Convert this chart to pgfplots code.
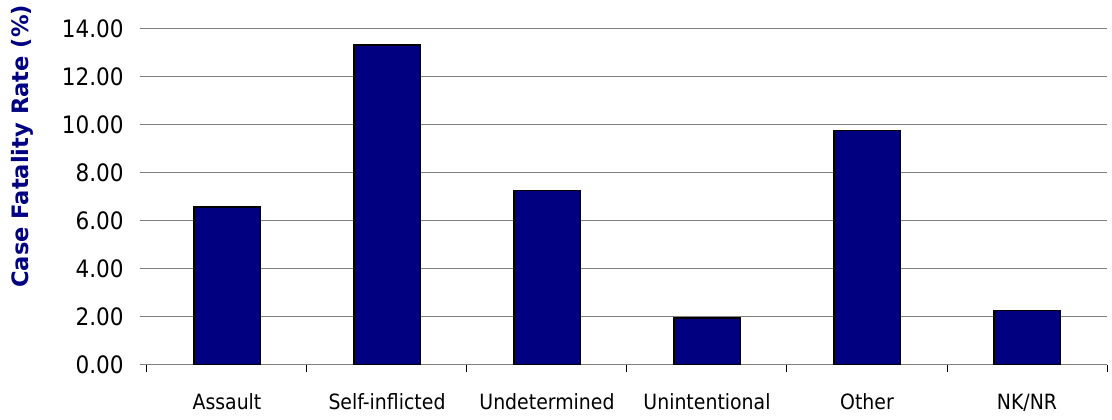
\documentclass[border=0pt]{standalone}
\usepackage{pgfplots}
\pgfplotsset{compat=1.18}
\usepackage{fontspec}
\setmainfont{DejaVu Sans}
\newfontfamily\condfont{DejaVu Sans Condensed}
\definecolor{barnavy}{RGB}{0,0,128}
\definecolor{gridgray}{RGB}{128,128,128}
\begin{document}
\begin{tikzpicture}
\path[use as bounding box] (-73.5pt,-27.25pt) rectangle (482.5pt,182.35pt);
\begin{axis}[
  at={(0,0)}, anchor=south west,
  scale only axis, width=480pt, height=168pt,
  xmin=-0.5, xmax=5.5, ymin=0, ymax=14,
  axis x line*=bottom, axis y line*=left,
  axis line style={-},
  x axis line style={gridgray, line width=0.75pt},
  y axis line style={draw=none},
  tick align=outside,
  major tick length=3.5pt,
  % category boundaries carry the ticks, names sit between them
  xtick={-0.5,0.5,1.5,2.5,3.5,4.5,5.5},
  xticklabels={},
  x tick style={black, line width=0.5pt},
  extra x ticks={0,1,2,3,4,5},
  extra x tick labels={Assault, Self-inflicted, Undetermined, Unintentional, Other, NK/NR},
  extra x tick style={major tick length=0pt, xmajorgrids=false,
    xticklabel style={font=\condfont\fontsize{10.5}{12}\selectfont,
      anchor=base, inner sep=0pt, yshift=-22.3pt}},
  ytick={0,2,4,6,8,10,12,14},
  y tick style={gridgray, line width=0.75pt},
  ymajorgrids,
  grid style={gridgray, line width=0.75pt},
  /pgf/number format/assume math mode=true,
  yticklabel style={/pgf/number format/fixed, /pgf/number format/fixed zerofill,
    /pgf/number format/precision=2, font=\condfont\fontsize{12}{14}\selectfont,
    anchor=east, inner sep=0pt, xshift=-8pt},
  ylabel={Case Fatality Rate (\%)},
  ylabel style={at={(axis description cs:-0.1302,0.650)}, anchor=center,
    font=\bfseries\fontsize{11.3}{13}\selectfont, text=barnavy},
]
\addplot[ybar, bar width=0.41, fill=barnavy, draw=black, line width=0.9pt]
  coordinates {(0,6.58) (1,13.33) (2,7.26) (3,1.93) (4,9.76) (5,2.26)};
\end{axis}
\end{tikzpicture}
\end{document}
